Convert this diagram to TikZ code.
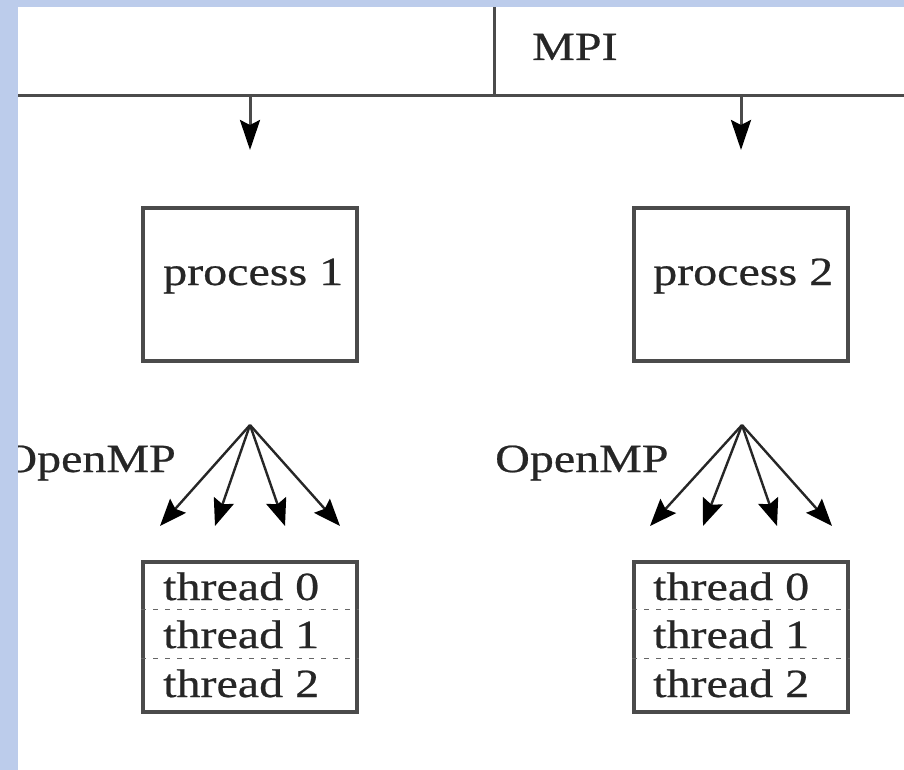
\documentclass[tikz,border=0pt]{standalone}
\usepackage{fontspec}
\setmainfont{Liberation Serif}[FakeStretch=1.2,FakeBold=0.6]
\usetikzlibrary{arrows.meta,calc}
\definecolor{frameblue}{RGB}{188,204,235}
\definecolor{linegray}{RGB}{75,75,75}
\begin{document}
\begin{tikzpicture}[x=1pt,y=-1pt,
  lbl/.style={font=\fontsize{40}{48}\selectfont, text=black!85, inner sep=0pt, anchor=base west},
  lblr/.style={lbl, anchor=base east},
  bus/.style={draw=linegray, line width=3pt},
  box/.style={draw=linegray, line width=3.4pt, minimum width=214pt, minimum height=153pt, inner sep=0pt},
  tbox/.style={box, minimum height=150pt},
  drop/.style={line width=3pt, draw=linegray, -{Stealth[length=30pt,width=20pt,inset=5pt,color=black]}},
  fork/.style={line width=2.4pt, draw=black!85, -{Stealth[length=27pt,width=21pt,inset=4pt,color=black]}},
  sep/.style={draw=black!60, line width=1.6pt, dash pattern=on 5pt off 7pt}]
\useasboundingbox (0,0) rectangle (904,770);
\fill[white] (0,0) rectangle (904,770);

% MPI bus
\coordinate (busL) at (18,96);
\coordinate (busR) at (904,96);
\coordinate (busT) at (494,7);
\coordinate (busJ) at (494,96);
\draw[bus] (busL) -- (busR);
\draw[bus] (busT) -- (busJ);
\node[lbl] (mpi) at (532,60) {MPI};

% drops
\coordinate (d1s) at (250,96);
\coordinate (d1e) at (250,150);
\coordinate (d2s) at (741,96);
\coordinate (d2e) at (741,150);
\draw[drop] (d1s) -- (d1e);
\draw[drop] (d2s) -- (d2e);

% process boxes
\node[box] (p1) at (250,284.5) {};
\node[box] (p2) at (741,284.5) {};
\node[lbl] (p1t) at (163,285) {process 1};
\node[lbl] (p2t) at (653,285) {process 2};

% OpenMP forks
\node[lblr] (omp1) at (176,472) {OpenMP};
\node[lbl] (omp2) at (495,472) {OpenMP};
\coordinate (f1) at (250,425);
\coordinate (f1a) at (160,526);
\coordinate (f1b) at (215,526);
\coordinate (f1c) at (285,526);
\coordinate (f1d) at (340,526);
\coordinate (f2) at (742,425);
\coordinate (f2a) at (650,526);
\coordinate (f2b) at (703,526);
\coordinate (f2c) at (777,526);
\coordinate (f2d) at (832,526);
\foreach \t in {a,b,c,d} {
  \draw[fork] (f1) -- (f1\t);
  \draw[fork] (f2) -- (f2\t);
}

% thread boxes
\node[tbox] (t1) at (250,637) {};
\node[tbox] (t2) at (741,637) {};
\foreach \b in {t1,t2} {
  \draw[sep] ($(\b.north west)+(0,49)$) -- ($(\b.north east)+(0,49)$);
  \draw[sep] ($(\b.north west)+(0,98)$) -- ($(\b.north east)+(0,98)$);
}
\node[lbl] (t1a) at (163,600) {thread 0};
\node[lbl] (t1b) at (163,648) {thread 1};
\node[lbl] (t1c) at (163,697) {thread 2};
\node[lbl] (t2a) at (653,600) {thread 0};
\node[lbl] (t2b) at (653,648) {thread 1};
\node[lbl] (t2c) at (653,697) {thread 2};

% frame
\fill[frameblue] (0,0) rectangle (18,770);
\fill[frameblue] (0,0) rectangle (904,7);
\end{tikzpicture}
\end{document}
